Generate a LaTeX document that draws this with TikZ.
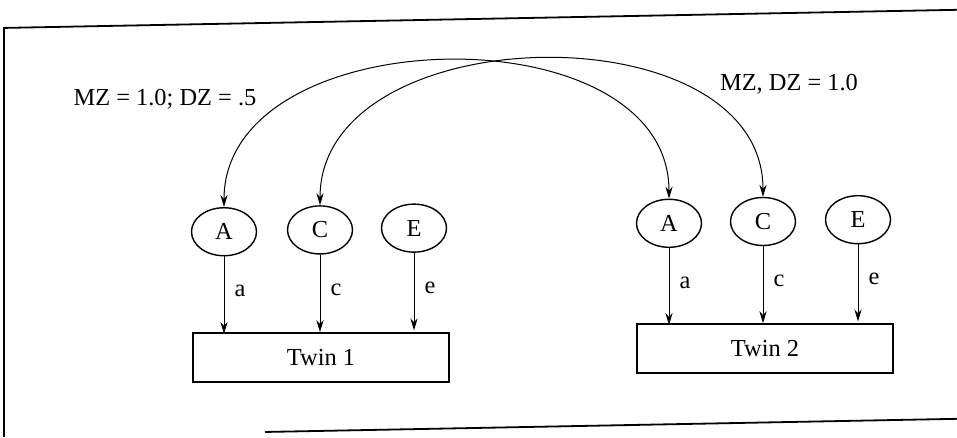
\documentclass[tikz,border=0pt]{standalone}
\usepackage{fontspec}
\setmainfont{Liberation Serif}
\usetikzlibrary{arrows.meta}
\usetikzlibrary{shapes.geometric}

\begin{document}
\begin{tikzpicture}[
  x=0.5pt,y=-0.5pt,
  >={Stealth[length=6pt,width=3.6pt]},line width=0.5pt,
  font=\fontsize{12.2}{14}\selectfont,
  factor/.style={ellipse,draw,line width=0.7pt,minimum width=32.5pt,minimum height=24pt,inner sep=0pt},
  twin/.style={draw,rectangle,line width=0.8pt,minimum width=128pt,minimum height=24.5pt,inner sep=0pt},
  lbl/.style={right=3pt,pos=0.45,inner sep=2pt},
  frame/.style={line width=0.9pt}]
  \useasboundingbox (0,0) rectangle (957,438);
  \begin{scope}[yslant=0.019]
    % frame
    \draw[frame] (4,437) -- (4,28) -- (957,28);
    \draw[frame] (265,437) -- (957,437);

    % latent factors
    \node[factor] (A1) at (224,236) {A};
    \node[factor] (C1) at (320,236) {C};
    \node[factor] (E1) at (414,236) {E};
    \node[factor] (A2) at (669,236) {A};
    \node[factor] (C2) at (763,236) {C};
    \node[factor] (E2) at (858,236) {E};

    % twins
    \node[twin] (T1) at (321,363.5) {Twin 1};
    \node[twin] (T2) at (765,363) {Twin 2};

    \node (mzdz) at (165,102) {MZ = 1.0; DZ = .5};
    \node (mzdzone) at (789,99) {MZ, DZ = 1.0};

    % paths
    \foreach \t in {1,2}
      \foreach \f/\l in {A/a,C/c,E/e}
        \draw[->] (\f\t) -- node[lbl]{\l} (\f\t |- T\t.north);

    % correlations
    \draw[<->] (A1.north) .. controls +(0,-189) and +(0,-189) .. (A2.north);
    \draw[<->] (C1.north) .. controls +(0,-189) and +(0,-189) .. (C2.north);
  \end{scope}
\end{tikzpicture}
\end{document}
